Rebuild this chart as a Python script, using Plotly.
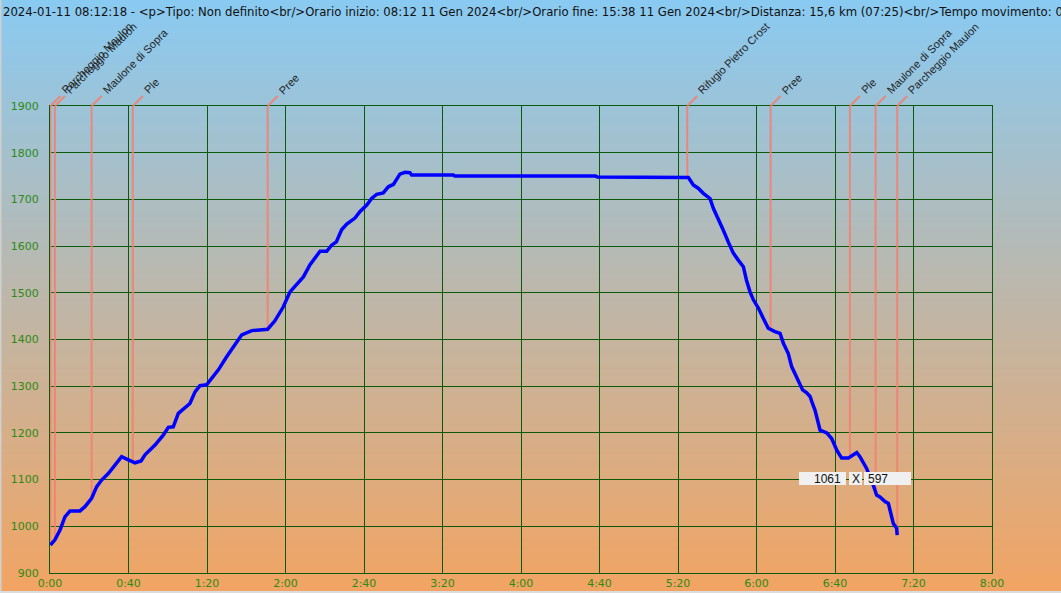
import zlib
import struct
import base64
import numpy as np
import plotly.graph_objects as go

# ---------------- data ----------------
time_min = [0.2, 2.5, 5.1, 7.6, 10.2, 15.3, 17.8, 21.2, 23.8, 26.3, 29.7, 33.1, 36.5, 39.1,
            43.3, 46.4, 48.4, 53.5, 57.7, 60.3, 62.8, 65.4, 67.9, 71.3, 73.9, 76.4, 79.8,
            82.4, 85.8, 90.0, 94.3, 97.7, 102.8, 110.9, 114.6, 118.9, 122.3, 125.7, 129.1,
            132.5, 137.6, 141.0, 143.5, 145.9, 148.6, 151.2, 155.4, 158.0, 161.4, 163.9,
            166.5, 169.8, 172.4, 175.0, 178.3, 180.9, 183.4, 184.3, 205.5, 206.4, 278.0,
            279.0, 325.3, 327.8, 330.3, 332.9, 336.3, 338.0, 340.5, 343.1, 345.6, 348.2,
            350.7, 353.3, 354.9, 356.7, 358.4, 361.0, 363.5, 366.0, 369.4, 372.0, 373.7,
            376.2, 377.9, 380.5, 382.2, 383.5, 385.6, 387.3, 388.5, 389.8, 392.4, 395.8,
            398.3, 400.9, 403.4, 406.8, 408.6, 411.1, 412.7, 414.4, 416.1, 419.5, 421.2,
            422.9, 425.5, 427.2, 428.9, 429.7, 431.4, 431.7]
elevation = [960, 971, 992, 1020, 1033, 1033, 1042, 1060, 1085, 1099, 1113, 1131, 1149, 1144,
             1136, 1140, 1153, 1174, 1195, 1212, 1213, 1242, 1251, 1263, 1288, 1301, 1303,
             1317, 1335, 1363, 1388, 1410, 1419, 1422, 1440, 1470, 1502, 1517, 1534,
             1560, 1589, 1589, 1602, 1609, 1635, 1647, 1660, 1674, 1688, 1702,
             1711, 1714, 1727, 1732, 1754, 1758, 1757, 1752, 1752, 1750, 1750,
             1748, 1747, 1731, 1724, 1713, 1702, 1681, 1660, 1634, 1609, 1585,
             1570, 1556, 1527, 1502, 1485, 1467, 1445, 1424, 1417, 1413, 1392,
             1370, 1342, 1317, 1304, 1292, 1286, 1278, 1263, 1249, 1206, 1200,
             1188, 1163, 1146, 1146, 1151, 1158, 1149, 1135, 1124, 1088, 1067,
             1063, 1053, 1049, 1020, 1006, 996, 981]

wp_names = ["Parcheggio Maulon", "Parcheggio Maulon", "Maulone di Sopra", "Ple", "Pree",
            "Rifugio Pietro Crost", "Pree", "Ple", "Maulone di Sopra", "Parcheggio Maulon"]
wp_time = [0.2, 2.5, 21.2, 42.2, 110.9, 324.7, 367.2, 407.6, 420.7, 431.7]

x_tickvals = [0, 40, 80, 120, 160, 200, 240, 280, 320, 360, 400, 440, 480]
x_ticktext = ["0:00", "0:40", "1:20", "2:00", "2:40", "3:20", "4:00", "4:40",
              "5:20", "6:00", "6:40", "7:20", "8:00"]
y_range = [900, 1900]
x_range = [0, 480]

title_text = ("2024-01-11 08:12:18 - &lt;p&gt;Tipo: Non definito&lt;br/&gt;Orario inizio: 08:12 11 Gen 2024"
              "&lt;br/&gt;Orario fine: 15:38 11 Gen 2024&lt;br/&gt;Distanza: 15,6 km (07:25)"
              "&lt;br/&gt;Tempo movimento: 0")
size_parts = ["1061", "X", "597"]

# ---------------- layout geometry ----------------
W, H = 1061, 593
ML, MR, MT, MB = 50, 69, 106, 20
PW, PH = W - ML - MR, H - MT - MB


def px(xp):
    return (xp - ML) / PW


def py(yp):
    return (H - MB - yp) / PH


def gradient_png(h, top, bot, w=2):
    raw = b""
    for i in range(h):
        f = i / (h - 1)
        c = bytes(int(round(top[k] + (bot[k] - top[k]) * f)) for k in range(3))
        raw += b"\x00" + c * w

    def chunk(t, d):
        return struct.pack(">I", len(d)) + t + d + struct.pack(">I", zlib.crc32(t + d) & 0xffffffff)

    png = (b"\x89PNG\r\n\x1a\n" + chunk(b"IHDR", struct.pack(">IIBBBBB", w, h, 8, 2, 0, 0, 0))
           + chunk(b"IDAT", zlib.compress(raw)) + chunk(b"IEND", b""))
    return "data:image/png;base64," + base64.b64encode(png).decode()


GRID = "#0a5a0a"
TICKCOL = "#2d8a14"
SALMON = "rgba(240,130,115,0.9)"
LABELFONT = dict(family="Liberation Sans, Arial", size=11, color="#1e1e1e")

fig = go.Figure()
fig.add_trace(go.Scatter(x=time_min, y=elevation, mode="lines",
                         line=dict(color="#0000ff", width=3.5), hoverinfo="skip",
                         showlegend=False))

shapes = []
annotations = []
wp_elev = np.interp(wp_time, time_min, elevation)
for name, t, e in zip(wp_names, wp_time, wp_elev):
    shapes.append(dict(type="line", xref="x", yref="y", x0=t, x1=t, y0=e, y1=y_range[1],
                       line=dict(color=SALMON, width=2), layer="between"))
    shapes.append(dict(type="line", xref="x", yref="paper", xsizemode="pixel", ysizemode="pixel",
                       xanchor=t, yanchor=1, x0=0, y0=0, x1=10, y1=10,
                       line=dict(color=SALMON, width=2), layer="above"))
    annotations.append(dict(x=t, y=1, xref="x", yref="paper", text=name, showarrow=False,
                            textangle=-45, xanchor="left", yanchor="bottom",
                            xshift=6, yshift=7, font=LABELFONT))

# title text
annotations.append(dict(x=px(1), y=py(12), xref="paper", yref="paper", text=title_text,
                        showarrow=False, xanchor="left", yanchor="middle",
                        font=dict(family="DejaVu Sans", size=11.7, color="#111111")))

# size box overlay
cells = [(799, 846), (849, 862), (864, 911)]
for (a, b) in cells:
    shapes.append(dict(type="rect", xref="paper", yref="paper", x0=px(a), x1=px(b),
                       y0=py(485), y1=py(472), fillcolor="#f0f0f0", line=dict(width=0),
                       layer="above"))
annotations.append(dict(x=px(843), y=py(478.5), xref="paper", yref="paper", text=size_parts[0],
                        showarrow=False, xanchor="right", yanchor="middle",
                        font=dict(family="Liberation Sans, Arial", size=12, color="#111")))
annotations.append(dict(x=px(855.5), y=py(478.5), xref="paper", yref="paper", text=size_parts[1],
                        showarrow=False, xanchor="center", yanchor="middle",
                        font=dict(family="Liberation Sans, Arial", size=12, color="#111")))
annotations.append(dict(x=px(866), y=py(478.5), xref="paper", yref="paper", text=size_parts[2],
                        showarrow=False, xanchor="left", yanchor="middle",
                        font=dict(family="Liberation Sans, Arial", size=12, color="#111")))

# window border strips
shapes.append(dict(type="rect", xref="paper", yref="paper", x0=px(0), x1=px(1.5), y0=py(H), y1=py(0),
                   fillcolor="#d0d0d0", line=dict(width=0), layer="above"))
shapes.append(dict(type="rect", xref="paper", yref="paper", x0=px(0), x1=px(W), y0=py(H), y1=py(591),
                   fillcolor="#dcdcdc", line=dict(width=0), layer="above"))

bg = gradient_png(H, (137, 202, 242), (242, 164, 98))

fig.update_layout(
    width=W, height=H, autosize=False,
    margin=dict(l=ML, r=MR, t=MT, b=MB, pad=0, autoexpand=False),
    paper_bgcolor="#f0a060", plot_bgcolor="rgba(0,0,0,0)",
    images=[dict(source=bg, xref="paper", yref="paper", x=px(0), y=py(0),
                 sizex=W / PW, sizey=H / PH, sizing="stretch", xanchor="left",
                 yanchor="top", layer="below")],
    shapes=shapes, annotations=annotations, showlegend=False,
    xaxis=dict(range=x_range, tickvals=x_tickvals, ticktext=x_ticktext, showgrid=True,
               gridcolor=GRID, gridwidth=1, zeroline=False, showline=True, mirror=True,
               linecolor=GRID, linewidth=1, ticks="", automargin=False,
               tickfont=dict(family="DejaVu Sans", size=11, color=TICKCOL)),
    yaxis=dict(range=y_range, dtick=100, tick0=900, showgrid=True, gridcolor=GRID, gridwidth=1,
               zeroline=False, showline=True, mirror=True, linecolor=GRID, linewidth=1,
               ticks="", ticklabelstandoff=8, automargin=False,
               tickfont=dict(family="DejaVu Sans", size=11, color=TICKCOL)),
)

fig.write_html("out.html", config={"displayModeBar": False},
               post_script="document.documentElement.style.margin='0';"
                           "document.body.style.margin='0';document.body.style.overflow='hidden';")
